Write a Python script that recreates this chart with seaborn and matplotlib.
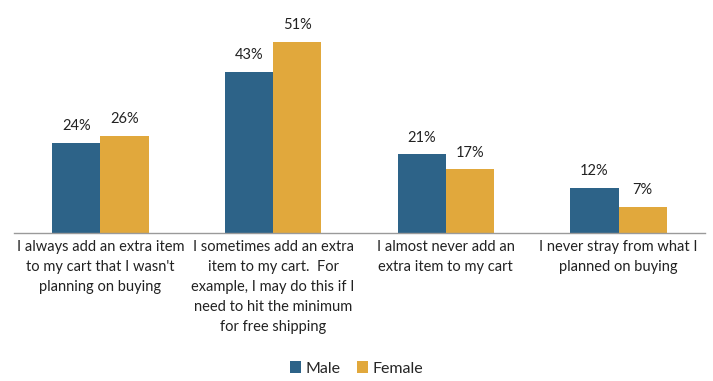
import matplotlib
matplotlib.use("Agg")
import matplotlib.pyplot as plt
import seaborn as sns
import pandas as pd

categories = [
    "I always add an extra item\nto my cart that I wasn't\nplanning on buying",
    "I sometimes add an extra\nitem to my cart.  For\nexample, I may do this if I\nneed to hit the minimum\nfor free shipping",
    "I almost never add an\nextra item to my cart",
    "I never stray from what I\nplanned on buying",
]
male = [24, 43, 21, 12]
female = [26, 51, 17, 7]
series = ["Male", "Female"]
colors = ["#2D6388", "#E1A83C"]

df = pd.DataFrame({
    "category": categories * 2,
    "gender": [series[0]] * len(male) + [series[1]] * len(female),
    "value": male + female,
})

sns.set_theme(style="white")
plt.rcParams["font.family"] = ["Lato", "DejaVu Sans"]

fig = plt.figure(figsize=(7.13, 3.81), dpi=100)
ax = fig.add_axes([14 / 713, 1 - 233 / 381, (705 - 14) / 713, (233 - 12) / 381])

sns.barplot(data=df, x="category", y="value", hue="gender", order=categories,
            hue_order=series, palette=colors, width=0.56, saturation=1,
            linewidth=0, ax=ax, legend=True)

for cont in ax.containers:
    ax.bar_label(cont, labels=[f"{v:.0f}%" for v in cont.datavalues],
                 padding=7, fontsize=10.5, color="#222222")

ax.set_ylim(0, 59)
ax.set_xlim(-0.5, len(categories) - 0.5)
ax.set_xlabel("")
ax.set_ylabel("")
ax.set_yticks([])
for s in ["top", "right", "left"]:
    ax.spines[s].set_visible(False)
ax.spines["bottom"].set_color("#9a9a9a")
ax.spines["bottom"].set_linewidth(1)

ax.set_xticks(range(len(categories)))
ax.set_xticklabels(categories, fontsize=10.5, color="#222222", linespacing=1.55,
                   va="top")
ax.tick_params(axis="x", length=0, pad=5)

# category separators drawn as minor ticks
ax.set_xticks([i - 0.5 for i in range(len(categories) + 1)], minor=True)
ax.tick_params(axis="x", which="minor", length=5, color="#9a9a9a",
               direction="out", width=1)

handles, labels = ax.get_legend_handles_labels()
ax.get_legend().remove()
fig.legend(handles, labels, loc="center", bbox_to_anchor=(0.5, 0.033),
           ncol=2, frameon=False, fontsize=11.5, handlelength=0.7,
           handleheight=0.7, handletextpad=0.3, columnspacing=1.0,
           borderpad=0.1)

fig.savefig("out.png", dpi=100)
